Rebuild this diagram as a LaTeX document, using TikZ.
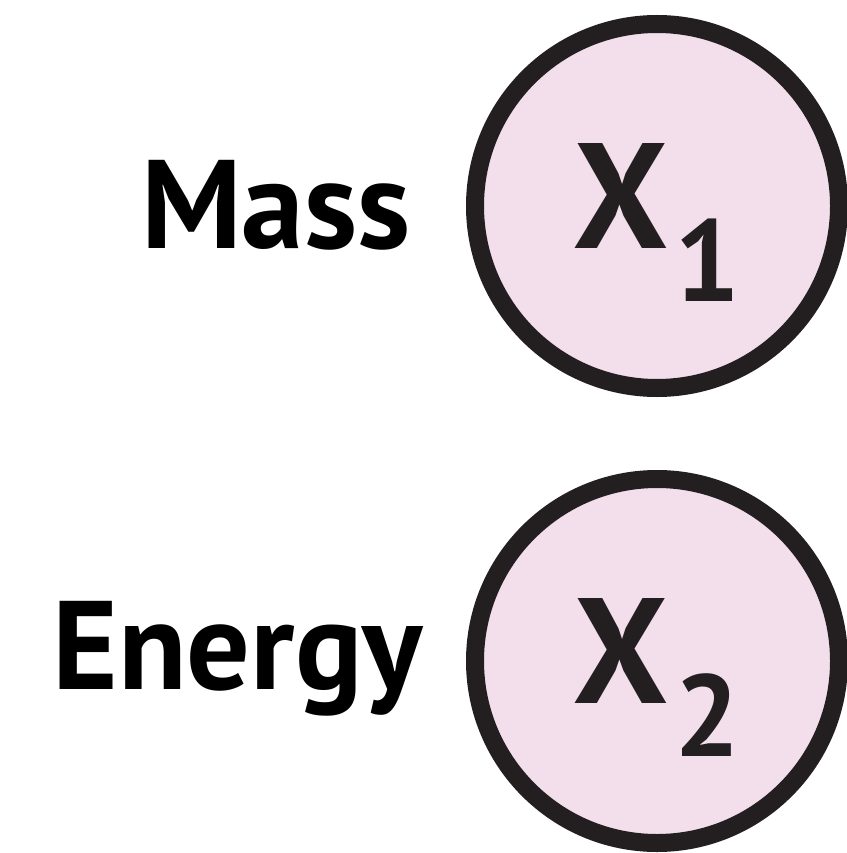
\documentclass[tikz,border=0pt]{standalone}
\usepackage{fontspec}
\setmainfont{PT Sans}
\usetikzlibrary{positioning}
\definecolor{cFill}{RGB}{243,222,235}
\definecolor{cLine}{RGB}{35,31,32}
\tikzset{
  var/.style={draw=cLine, fill=cFill, circle, line width=18pt, minimum size=364pt, inner sep=0pt, text=cLine, text height=137pt, text depth=53pt, font=\fontsize{150}{150}\selectfont\bfseries},
  lbl/.style={inner sep=0pt, text height=84pt, text depth=0pt, font=\fontsize{126}{126}\selectfont\bfseries}
}
\newcommand{\varsub}[1]{\kern6pt\raisebox{-53pt}{\fontsize{116}{116}\selectfont #1}}

\begin{document}
\begin{tikzpicture}[x=1pt, y=-1pt]
  \useasboundingbox (0,0) rectangle (846,853);
  \node[var] (x1) at (657,206) {X\varsub{1}};
  \node[var] (x2) at (657,661) {X\varsub{2}};
  \node[lbl, left=55pt of x1] (mass) {Mass};
  \node[lbl, left=43pt of x2, yshift=14pt] (energy) {Energy};
\end{tikzpicture}
\end{document}
